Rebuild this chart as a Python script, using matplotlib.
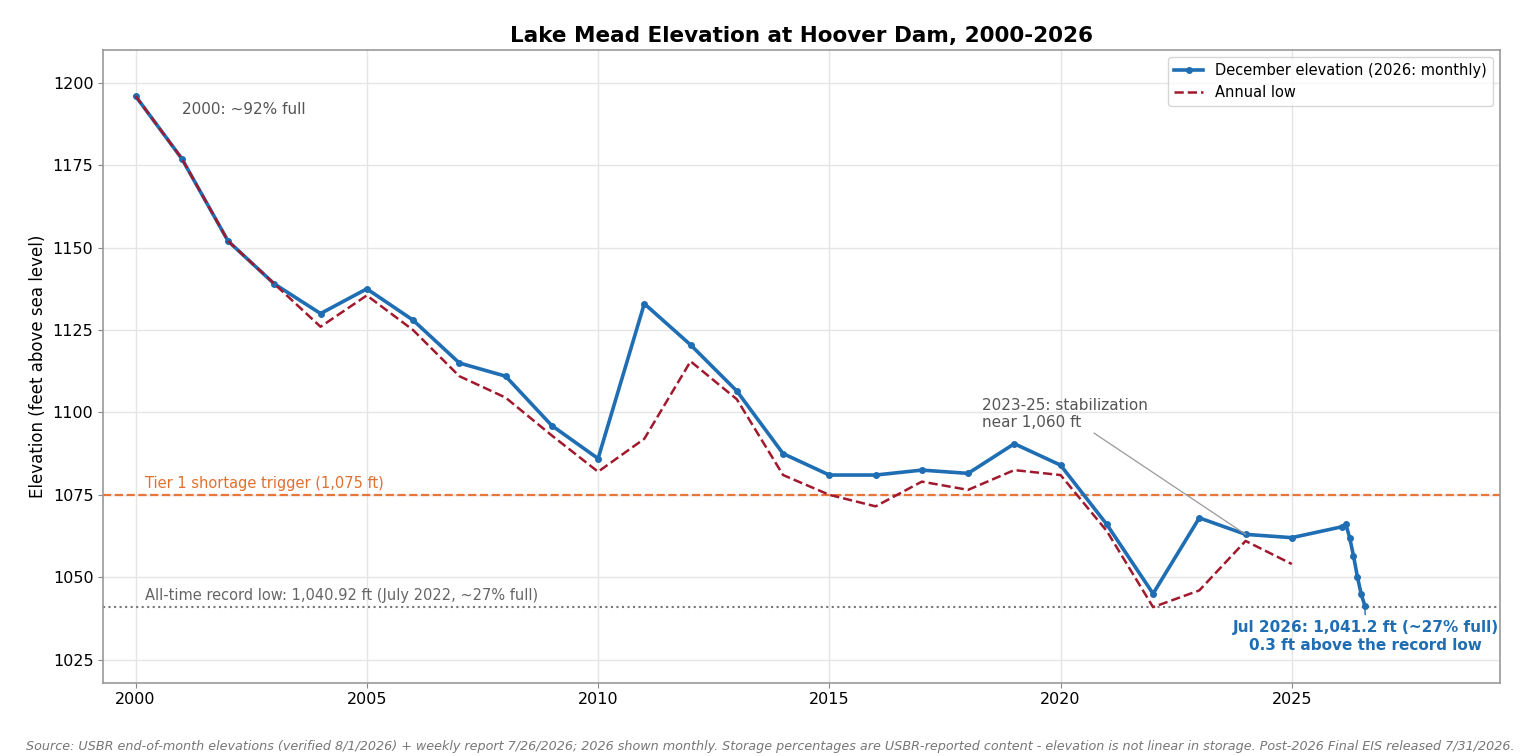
import matplotlib.pyplot as plt

years = list(range(2000, 2026))
dec_elev = [1196, 1177, 1152, 1139, 1130, 1137.5, 1128, 1115, 1111, 1096, 1086,
            1133, 1120.5, 1106.5, 1087.5, 1081, 1081, 1082.5, 1081.5, 1090.5, 1084,
            1066, 1045, 1068, 1063, 1062]
annual_low = [1196, 1177, 1152, 1139, 1126, 1135.5, 1125, 1111, 1104.5, 1093, 1082,
              1092, 1115.5, 1104, 1081, 1075, 1071.5, 1079, 1076.5, 1082.5, 1081,
              1064, 1040.92, 1046, 1061, 1054]
months_2026 = [1, 2, 3, 4, 5, 6, 7]
elev_2026 = [1065.3, 1066.1, 1062, 1056.5, 1050.2, 1044.8, 1041.2]

x_all = years + [2026 + m / 12 for m in months_2026]
y_all = dec_elev + elev_2026

blue = '#1f6eb4'
fig, ax = plt.subplots(figsize=(15.4, 7.56), dpi=100)
ax.plot(x_all, y_all, color=blue, lw=2.6, marker='o', ms=4,
        label='December elevation (2026: monthly)', zorder=3)
ax.plot(years, annual_low, color='#a0192d', lw=1.8, ls='--', label='Annual low', zorder=4)

ax.axhline(1075, color='#e8753a', ls='--', lw=1.6)
ax.axhline(1040.92, color='#777777', ls=':', lw=1.5)
ax.text(2000.2, 1077, 'Tier 1 shortage trigger (1,075 ft)', color='#e07030', fontsize=10.5)
ax.text(2000.2, 1043, 'All-time record low: 1,040.92 ft (July 2022, ~27% full)',
        color='#666666', fontsize=10.5)
ax.text(2001, 1190.5, '2000: ~92% full', color='#555555', fontsize=11)
ax.annotate('2023-25: stabilization\nnear 1,060 ft', xy=(2024, 1063), xytext=(2018.3, 1095.5),
            color='#555555', fontsize=11,
            arrowprops=dict(arrowstyle='-', color='#999999', lw=0.9, shrinkA=0, shrinkB=0,
                            relpos=(0.65, 0)))
ax.annotate('Jul 2026: 1,041.2 ft (~27% full)\n0.3 ft above the record low',
            xy=(2026.58, 1041.2), xytext=(2026.6, 1032), ha='center', va='center',
            color=blue, fontsize=11, fontweight='bold',
            arrowprops=dict(arrowstyle='-', color=blue, lw=1))

ax.set_xlim(1999.3, 2029.5)
ax.set_ylim(1018, 1210)
ax.set_xticks([2000, 2005, 2010, 2015, 2020, 2025])
ax.set_yticks(range(1025, 1201, 25))
ax.tick_params(labelsize=11.5, color='#888888')
ax.grid(color='#e5e5e5', lw=1)
ax.set_axisbelow(True)
for s in ax.spines.values():
    s.set_color('#999999')
    s.set_linewidth(1.2)
ax.set_ylabel('Elevation (feet above sea level)', fontsize=12)
ax.set_title('Lake Mead Elevation at Hoover Dam, 2000-2026', fontsize=15.5, fontweight='bold')
ax.legend(loc='upper right', fontsize=10.5)
fig.text(0.5, 0.008, 'Source: USBR end-of-month elevations (verified 8/1/2026) + weekly report 7/26/2026; '
         '2026 shown monthly. Storage percentages are USBR-reported content - elevation is not linear '
         'in storage. Post-2026 Final EIS released 7/31/2026.',
         ha='center', fontsize=9.2, style='italic', color='#777777')
fig.subplots_adjust(left=0.067, right=0.974, top=0.934, bottom=0.097)
fig.savefig('out.png')
